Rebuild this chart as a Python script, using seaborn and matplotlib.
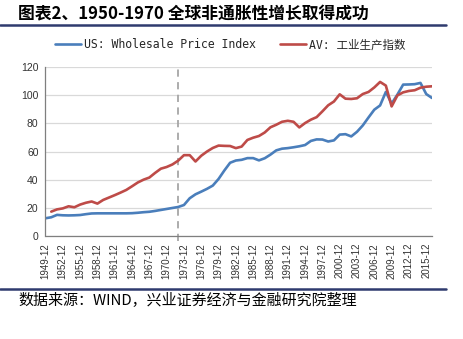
import matplotlib
matplotlib.use("Agg")
import matplotlib.pyplot as plt
import seaborn as sns
import pandas as pd

# Annual series
wpi_years = list(range(1949, 2017))
wpi_values = [
    12.6, 13.3, 15.0, 14.7, 14.6, 14.7, 14.9, 15.5, 16.0, 16.1,
    16.1, 16.1, 16.1, 16.1, 16.1, 16.2, 16.5, 16.9, 17.2, 17.8,
    18.5, 19.2, 19.9, 20.6, 22.0, 26.8, 29.6, 31.5, 33.5, 35.8,
    40.5, 46.5, 52.0, 53.6, 54.1, 55.3, 55.3, 53.7, 55.2, 57.8,
    60.8, 62.0, 62.4, 63.0, 63.7, 64.6, 67.5, 68.6, 68.5, 67.1,
    67.9, 72.0, 72.3, 70.7, 74.0, 78.5, 84.2, 89.7, 92.7, 102.3,
    94.0, 100.4, 107.5, 107.6, 107.8, 108.7, 100.8, 98.0,
]

ip_years = list(range(1950, 2017))
ip_values = [
    17.3, 18.9, 19.6, 21.1, 20.4, 22.3, 23.6, 24.5, 23.0, 25.6,
    27.3, 29.0, 30.8, 32.7, 35.3, 38.0, 40.0, 41.5, 44.8, 47.8,
    49.0, 50.8, 53.5, 57.4, 57.4, 52.9, 57.0, 60.0, 62.5, 64.2,
    64.0, 63.9, 62.4, 63.5, 68.2, 69.8, 71.0, 73.5, 77.2, 79.0,
    81.1, 81.8, 81.1, 77.1, 80.2, 82.6, 84.4, 88.5, 92.8, 95.5,
    100.6, 97.5, 97.3, 97.8, 100.8, 102.3, 105.5, 109.4, 106.8, 92.0,
    99.8, 102.0, 103.0, 103.5, 105.3, 106.0, 106.3,
]

series_names = ["US: Wholesale Price Index", "AV: 工业生产指数"]
series_colors = ["#4A7EBB", "#BE4B48"]
tick_years = list(range(1949, 2016, 3))
tick_labels = [f"{y}-12" for y in tick_years]
divider_year = 1972

title_text = "图表2、1950-1970 全球非通胀性增长取得成功"
source_text = "数据来源：WIND，兴业证券经济与金融研究院整理"

df = pd.concat([
    pd.DataFrame({"year": wpi_years, "value": wpi_values, "series": series_names[0]}),
    pd.DataFrame({"year": ip_years, "value": ip_values, "series": series_names[1]}),
], ignore_index=True)

sns.set_theme(style="white")
plt.rcParams["font.family"] = ["Noto Sans CJK SC", "DejaVu Sans"]

W, H = 464, 339
fig = plt.figure(figsize=(W / 100, H / 100), dpi=100)
ax = fig.add_axes([45.5 / W, 1 - 236 / H, (432 - 45.5) / W, (236 - 67) / H])

sns.lineplot(data=df, x="year", y="value", hue="series", hue_order=series_names,
             palette=series_colors, linewidth=1.9, ax=ax, legend=False)

ax.axvline(divider_year, ymin=-0.03, ymax=1.0, clip_on=False,
           color="#A6A6A6", lw=1.3, ls=(0, (4, 3)), zorder=1)

ax.set_xlim(1949, 2016)
ax.set_ylim(0, 120)
ax.set_yticks(range(0, 121, 20))
ax.set_yticklabels([str(v) for v in range(0, 121, 20)], fontsize=7.5,
                   color="#333333", family=["Liberation Sans", "DejaVu Sans"])
ax.set_xticks(tick_years)
ax.set_xticklabels(tick_labels, rotation=90, fontsize=7, color="#333333",
                   family=["Liberation Sans", "DejaVu Sans"])
ax.set_xlabel("")
ax.set_ylabel("")
ax.grid(axis="y", color="#D9D9D9", lw=0.9)
ax.grid(axis="x", visible=False)
ax.set_axisbelow(True)
for side in ["top", "right"]:
    ax.spines[side].set_visible(False)
for side in ["left", "bottom"]:
    ax.spines[side].set_color("#7F7F7F")
    ax.spines[side].set_linewidth(0.9)
ax.tick_params(axis="both", which="both", direction="out", length=3,
               width=0.8, color="#7F7F7F", pad=2)

# Legend above the plot area
handles = [plt.Line2D([], [], color=c, lw=1.9) for c in series_colors]
fig.legend(handles, series_names, loc="center", ncol=2,
           bbox_to_anchor=(230 / W, 1 - 45 / H), frameon=False,
           prop={"family": ["DejaVu Sans Mono", "Noto Sans CJK SC"], "size": 8.3},
           handlelength=2.3, handletextpad=0.2, columnspacing=2.1)

# Title and rules
fig.text(18 / W, 1 - 14 / H, title_text, fontsize=12.1, fontweight="bold",
         va="center", ha="left", color="#000000")
fig.add_artist(plt.Line2D([0, 446 / W], [1 - 25 / H, 1 - 25 / H],
                          color="#2F3B6E", lw=1.8))
fig.add_artist(plt.Line2D([0, 446 / W], [1 - 289 / H, 1 - 289 / H],
                          color="#2F3B6E", lw=1.8))
fig.text(18 / W, 1 - 300 / H, source_text, fontsize=10.8, va="center",
         ha="left", color="#000000")

fig.savefig("out.png", dpi=100, facecolor="white")
